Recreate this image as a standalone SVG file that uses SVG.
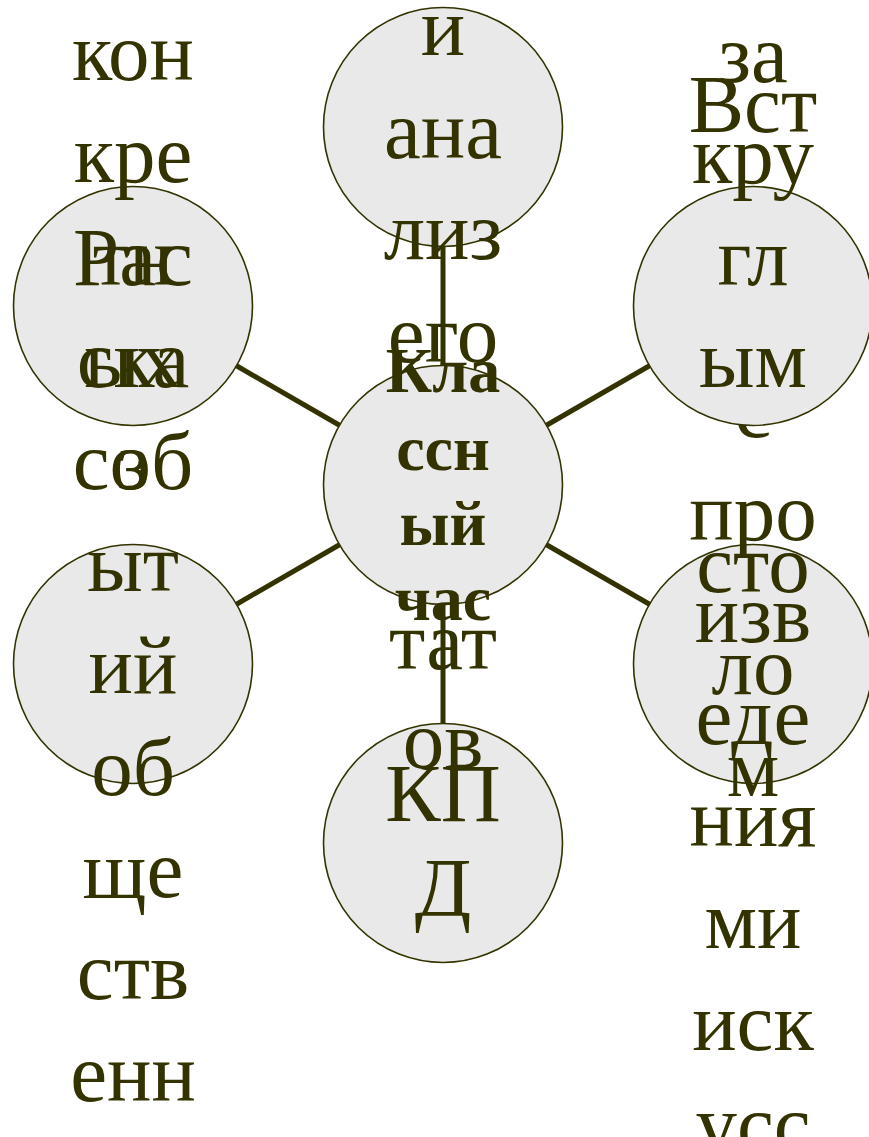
<svg xmlns="http://www.w3.org/2000/svg" width="869" height="1137" viewBox="0 0 869 1137">
<style>
.c{fill:#e9e9e9;stroke:#333300;stroke-width:1.6}
.t{font-family:"Liberation Serif","Times New Roman",serif;font-size:83px;fill:#333300;text-anchor:middle}
.b{font-family:"Liberation Serif","Times New Roman",serif;font-size:64px;font-weight:bold;fill:#333300;text-anchor:middle}
.e{stroke:#333300;stroke-width:5;fill:none}
</style>
<rect width="869" height="1137" fill="#ffffff"/>
<g id="node-tl">
<circle class="c" cx="133" cy="306" r="119.5"/>
<text class="t" x="133" y="285">Рас</text>
<text class="t" x="133" y="387">ска</text>
<text class="t" x="133" y="489">з</text>
</g>
<g id="node-b">
<circle class="c" cx="443" cy="843" r="119.5"/>
<text class="t" x="443" y="821">КП</text>
<text class="t" x="443" y="915">Д</text>
</g>
<g id="node-br">
<circle class="c" cx="753" cy="664" r="119.5"/>
<text class="t" x="753" y="132">Вст</text>
<text class="t" x="753" y="437">с</text>
<text class="t" x="753" y="540">про</text>
<text class="t" x="753" y="642">изв</text>
<text class="t" x="753" y="744">еде</text>
<text class="t" x="753" y="846">ния</text>
<text class="t" x="753" y="948">ми</text>
<text class="t" x="753" y="1050">иск</text>
<text class="t" x="753" y="1152">усс</text>
</g>
<g id="node-tr">
<circle class="c" cx="753" cy="306" r="119.5"/>
<text class="t" x="753" y="82">за</text>
<text class="t" x="753" y="183">кру</text>
<text class="t" x="753" y="285">гл</text>
<text class="t" x="753" y="387">ым</text>
<text class="t" x="753" y="592">сто</text>
<text class="t" x="753" y="694">ло</text>
<text class="t" x="753" y="796">м</text>
</g>
<g id="node-t">
<circle class="c" cx="443" cy="127" r="119.5"/>
<text class="t" x="443" y="55">и</text>
<text class="t" x="443" y="158">ана</text>
<text class="t" x="443" y="259">лиз</text>
<text class="t" x="443" y="362">его</text>
<text class="t" x="443" y="669">тат</text>
<text class="t" x="443" y="768">ов</text>
</g>
<g id="node-bl">
<circle class="c" cx="133" cy="664" r="119.5"/>
<text class="t" x="133" y="80">кон</text>
<text class="t" x="133" y="182">кре</text>
<text class="t" x="133" y="285">тн</text>
<text class="t" x="133" y="387">ых</text>
<text class="t" x="133" y="489">соб</text>
<text class="t" x="133" y="591">ыт</text>
<text class="t" x="133" y="693">ий</text>
<text class="t" x="133" y="795">об</text>
<text class="t" x="133" y="897">ще</text>
<text class="t" x="133" y="999">ств</text>
<text class="t" x="133" y="1101">енн</text>
</g>
<g id="connectors">
<line class="e" x1="443" y1="246.5" x2="443" y2="365.5"/>
<line class="e" x1="443" y1="604.5" x2="443" y2="723.5"/>
<line class="e" x1="236.5" y1="365.75" x2="339.5" y2="425.25"/>
<line class="e" x1="649.5" y1="365.75" x2="546.5" y2="425.25"/>
<line class="e" x1="236.5" y1="604.25" x2="339.5" y2="544.75"/>
<line class="e" x1="649.5" y1="604.25" x2="546.5" y2="544.75"/>
</g>
<g id="node-center">
<circle class="c" cx="443" cy="485" r="119.5"/>
<text class="b" x="443" y="392">Кла</text>
<text class="b" x="443" y="470">ссн</text>
<text class="b" x="443" y="545">ый</text>
<text class="b" x="443" y="620">час</text>
</g>
</svg>
